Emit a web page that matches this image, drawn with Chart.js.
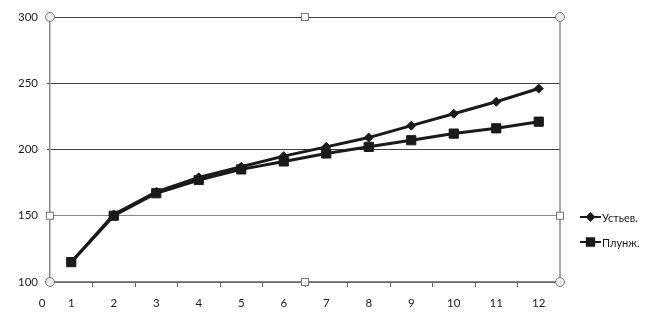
<!DOCTYPE html>
<html><head><meta charset="utf-8">
<script src="https://cdn.jsdelivr.net/npm/chart.js@4/dist/chart.umd.min.js"></script>
<style>html,body{margin:0;padding:0;background:#fff;}#w{width:655px;height:326px;}</style>
</head><body><div id="w"><canvas id="c"></canvas></div>
<script>
const categories = ['1','2','3','4','5','6','7','8','9','10','11','12'];
const originLabel = '0';
const seriesNames = ['Устьев.', 'Плунж.'];
const ustievValues = [115, 151, 168, 179, 187, 195, 202, 209, 218, 227, 236, 246];
const plunzhValues = [115, 150, 167, 177, 185, 191, 197, 202, 207, 212, 216, 221];
const yTicks = [100, 150, 200, 250, 300];

const FONT = 'Lato, "Open Sans", sans-serif';
const TXT = '#1a1a1a';

const deco = {
  id: 'deco',
  afterDraw(chart) {
    const ctx = chart.ctx, a = chart.chartArea;
    const ys = chart.scales.y;
    ctx.save();
    ctx.font = '11.5px ' + FONT;
    ctx.fillStyle = TXT;
    ctx.textAlign = 'center';
    ctx.textBaseline = 'middle';
    ctx.fillText(originLabel, a.left - 8, a.bottom + 21);
    ctx.lineWidth = 1;
    ctx.strokeStyle = '#777';
    const circ = (x, y) => { ctx.beginPath(); ctx.arc(x, y, 4.5, 0, Math.PI * 2); ctx.fillStyle = '#eee'; ctx.fill(); ctx.stroke(); };
    const sq = (x, y) => { ctx.fillStyle = '#fff'; ctx.fillRect(x - 3.5, y - 3.5, 7, 7); ctx.strokeRect(x - 3.5, y - 3.5, 7, 7); };
    circ(a.left, a.top); circ(a.right, a.top); circ(a.left, a.bottom); circ(a.right, a.bottom);
    const mx = (a.left + a.right) / 2, my = ys.getPixelForValue(150);
    sq(mx, a.top); sq(mx, a.bottom); sq(a.left, my); sq(a.right, my);
    ctx.font = '11px ' + FONT;
    ctx.textAlign = 'left';
    chart.data.datasets.forEach((ds, i) => {
      const ly = a.top + 200 + i * 25;
      const lx = a.right + 20;
      ctx.strokeStyle = ds.borderColor; ctx.lineWidth = 2;
      ctx.beginPath(); ctx.moveTo(lx, ly); ctx.lineTo(lx + 21, ly); ctx.stroke();
      ctx.fillStyle = ds.backgroundColor;
      Chart.helpers.drawPoint(ctx, { pointStyle: ds.pointStyle, radius: ds.pointRadius * 0.8, borderWidth: 1 }, lx + 10.5, ly);
      ctx.fillStyle = TXT;
      ctx.fillText(ds.label, lx + 22, ly + 1);
    });
    ctx.restore();
  }
};

new Chart(document.getElementById('c'), {
  type: 'line',
  data: {
    labels: categories,
    datasets: [
      { label: seriesNames[0], data: ustievValues, borderColor: '#1a1a1a', backgroundColor: '#1a1a1a', borderWidth: 3, pointStyle: 'rectRot', pointRadius: 4.5, pointBorderWidth: 1, tension: 0 },
      { label: seriesNames[1], data: plunzhValues, borderColor: '#1a1a1a', backgroundColor: '#1a1a1a', borderWidth: 3, pointStyle: 'rect', pointRadius: 6.5, pointBorderWidth: 1, tension: 0 }
    ]
  },
  options: {
    responsive: true, maintainAspectRatio: false, animation: false,
    layout: { padding: { top: 17, right: 95, left: 0, bottom: 0 } },
    plugins: { legend: { display: false }, tooltip: { enabled: false } },
    scales: {
      x: {
        offset: true,
        grid: { offset: true, drawOnChartArea: false, drawTicks: true, tickLength: 5, color: '#666' },
        border: { color: '#888', width: 1.5 },
        ticks: { color: TXT, font: { family: FONT, size: 11.5 }, padding: 9, maxRotation: 0 },
        afterFit(s) { s.height = 44; }
      },
      y: {
        min: 100, max: 300,
        afterBuildTicks(s) { s.ticks = yTicks.map(v => ({ value: v })); },
        grid: { color: (c) => c.tick && c.tick.value === 150 ? '#888' : '#444', lineWidth: 1, tickLength: 3 },
        border: { color: '#888', width: 1.5 },
        ticks: { color: TXT, font: { family: FONT, size: 11.5 }, padding: 9 },
        afterFit(s) { s.width = 50; }
      }
    }
  },
  plugins: [deco, {
    id: 'rightBorder',
    beforeDatasetsDraw(chart) {
      const ctx = chart.ctx, a = chart.chartArea;
      ctx.save(); ctx.strokeStyle = '#888'; ctx.lineWidth = 1.5;
      ctx.beginPath(); ctx.moveTo(a.right, a.top); ctx.lineTo(a.right, a.bottom); ctx.stroke();
      ctx.restore();
    }
  }]
});
</script></body></html>
